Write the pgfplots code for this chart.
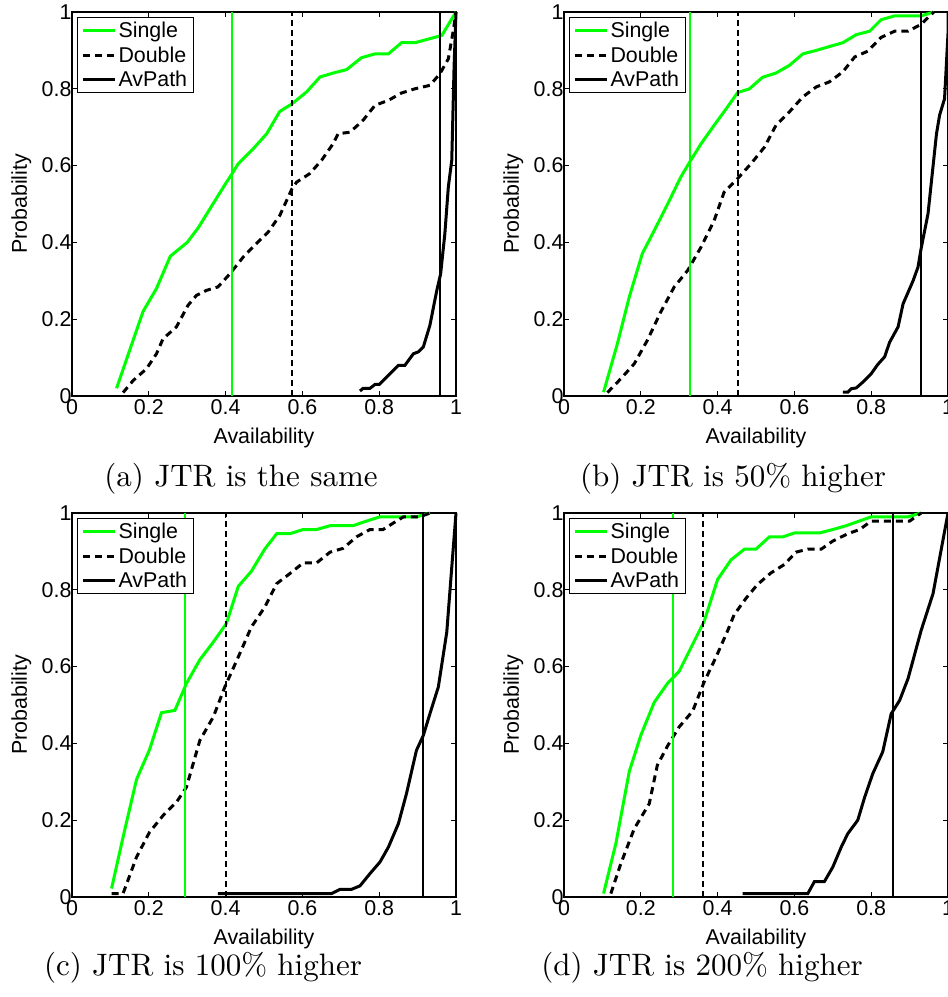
\documentclass[border=0pt]{standalone}
\usepackage{fontspec}
\usepackage{pgfplots}
\pgfplotsset{compat=1.18}
\newfontfamily\arial{Liberation Sans}
\newfontfamily\capfont{lmroman10-regular.otf}
\definecolor{mgreen}{RGB}{0,255,0}
\newcommand{\axfont}{\arial\fontsize{21.4}{25}\selectfont}
\pgfplotsset{
  panel/.style={
    scale only axis, width=384pt, height=384pt,
    xmin=0, xmax=1, ymin=0, ymax=1,
    xtick={0,0.2,0.4,0.6,0.8,1}, ytick={0,0.2,0.4,0.6,0.8,1},
    tick align=inside, major tick length=5pt,
    tick style={black, line width=1pt},
    axis line style={black, line width=1.3pt},
    /pgf/number format/assume math mode=true,
    tick label style={font=\axfont},
    label style={font=\axfont},
    xlabel={Availability}, ylabel={Probability},
    xlabel style={at={(axis description cs:0.5,-0.11)}, anchor=center},
    ylabel style={at={(axis description cs:-0.132,0.5)}, anchor=center, rotate=0},
    yticklabel style={xshift=3pt},
    legend style={at={(axis description cs:0,1)}, anchor=north west,
      xshift=5pt, yshift=-5pt, draw=black, line width=1pt, font=\axfont,
      inner xsep=4pt, inner ysep=2.5pt, row sep=3.5pt,
      nodes={inner sep=2pt}, cells={anchor=west}},
    legend image code/.code={\draw[#1] (0pt,0pt) -- (32pt,0pt);},
    clip=false,
  },
  single/.style={mgreen, line width=3pt},
  double/.style={black, line width=3pt, dash pattern=on 7pt off 5pt},
  avpath/.style={black, line width=3pt},
  vsingle/.style={mgreen, line width=2pt, forget plot},
  vdouble/.style={black, line width=2pt, dash pattern=on 6pt off 4pt, forget plot},
  vavpath/.style={black, line width=2pt, forget plot},
}
\begin{document}
\begin{tikzpicture}[x=1pt,y=1pt]
\useasboundingbox (0,0) rectangle (948,-997);
% ---------------- (a)
\begin{axis}[panel, at={(72pt,-396pt)}, anchor=south west]
\addplot[single] coordinates {(0.116,0.02) (0.185,0.22) (0.22,0.28) (0.256,0.364) (0.30,0.40) (0.33,0.44) (0.367,0.50) (0.40,0.553) (0.417,0.579) (0.433,0.605) (0.472,0.644) (0.507,0.683) (0.541,0.741) (0.573,0.761) (0.611,0.792) (0.646,0.831) (0.680,0.841) (0.715,0.85) (0.754,0.881) (0.789,0.891) (0.824,0.891) (0.858,0.92) (0.893,0.92) (0.963,0.939) (1.0,1.0)};
\addlegendentry{Single}
\addplot[double] coordinates {(0.133,0.009) (0.159,0.04) (0.194,0.071) (0.22,0.11) (0.237,0.149) (0.272,0.18) (0.302,0.236) (0.324,0.262) (0.35,0.275) (0.38,0.284) (0.411,0.318) (0.446,0.362) (0.48,0.397) (0.511,0.427) (0.541,0.47) (0.573,0.54) (0.585,0.557) (0.619,0.579) (0.65,0.614) (0.68,0.657) (0.693,0.683) (0.724,0.687) (0.758,0.718) (0.789,0.757) (0.824,0.77) (0.858,0.789) (0.893,0.80) (0.932,0.809) (0.958,0.839) (0.98,0.878) (0.993,0.952) (1,1)};
\addlegendentry{Double}
\addplot[avpath] coordinates {(0.75,0.013) (0.758,0.02) (0.776,0.02) (0.789,0.03) (0.80,0.03) (0.828,0.058) (0.85,0.08) (0.867,0.08) (0.889,0.11) (0.902,0.115) (0.915,0.128) (0.932,0.184) (0.95,0.275) (0.96,0.318) (0.971,0.423) (0.98,0.544) (0.989,0.614) (0.995,0.857) (1,1)};
\addlegendentry{AvPath}
\addplot[vsingle] coordinates {(0.417,0) (0.417,1)};
\addplot[vdouble] coordinates {(0.573,0) (0.573,1)};
\addplot[vavpath] coordinates {(0.959,0) (0.959,1)};
\end{axis}
% ---------------- (b)
\begin{axis}[panel, at={(564pt,-396pt)}, anchor=south west]
\addplot[single] coordinates {(0.103,0.01) (0.139,0.136) (0.17,0.258) (0.204,0.371) (0.235,0.431) (0.27,0.50) (0.304,0.57) (0.329,0.612) (0.357,0.657) (0.391,0.705) (0.426,0.753) (0.452,0.79) (0.483,0.80) (0.517,0.83) (0.552,0.841) (0.587,0.861) (0.622,0.891) (0.657,0.90) (0.691,0.91) (0.726,0.92) (0.761,0.941) (0.796,0.95) (0.826,0.98) (0.861,0.99) (0.896,0.99) (0.93,0.99) (0.963,1.0)};
\addlegendentry{Single}
\addplot[double] coordinates {(0.113,0.009) (0.148,0.045) (0.183,0.084) (0.217,0.145) (0.252,0.219) (0.287,0.284) (0.322,0.327) (0.357,0.388) (0.391,0.457) (0.417,0.531) (0.452,0.566) (0.487,0.605) (0.522,0.648) (0.552,0.705) (0.587,0.74) (0.622,0.779) (0.657,0.805) (0.691,0.818) (0.726,0.844) (0.757,0.883) (0.791,0.898) (0.826,0.934) (0.861,0.95) (0.896,0.95) (0.93,0.968) (0.963,1.0)};
\addlegendentry{Double}
\addplot[avpath] coordinates {(0.726,0.01) (0.739,0.01) (0.748,0.019) (0.761,0.021) (0.778,0.036) (0.80,0.058) (0.817,0.082) (0.835,0.102) (0.848,0.14) (0.87,0.18) (0.883,0.24) (0.909,0.30) (0.922,0.336) (0.93,0.384) (0.948,0.475) (0.97,0.683) (0.978,0.731) (0.991,0.774) (1.0,0.944) (1.0,1.0)};
\addlegendentry{AvPath}
\addplot[vsingle] coordinates {(0.329,0) (0.329,1)};
\addplot[vdouble] coordinates {(0.452,0) (0.452,1)};
\addplot[vavpath] coordinates {(0.929,0) (0.929,1)};
\end{axis}
% ---------------- (c)
\begin{axis}[panel, at={(72pt,-897pt)}, anchor=south west]
\addplot[single] coordinates {(0.103,0.022) (0.133,0.156) (0.168,0.306) (0.202,0.384) (0.233,0.48) (0.268,0.486) (0.298,0.556) (0.333,0.618) (0.368,0.664) (0.402,0.712) (0.433,0.809) (0.467,0.848) (0.502,0.906) (0.533,0.946) (0.567,0.946) (0.602,0.957) (0.637,0.957) (0.672,0.967) (0.732,0.967) (0.767,0.979) (0.802,0.99) (0.897,0.99) (0.932,1.0)};
\addlegendentry{Single}
\addplot[double] coordinates {(0.103,0.009) (0.133,0.009) (0.168,0.104) (0.202,0.169) (0.237,0.212) (0.272,0.247) (0.298,0.286) (0.333,0.408) (0.368,0.469) (0.398,0.547) (0.433,0.625) (0.467,0.703) (0.502,0.755) (0.533,0.816) (0.567,0.842) (0.602,0.87) (0.637,0.87) (0.672,0.898) (0.706,0.908) (0.741,0.938) (0.776,0.957) (0.81,0.957) (0.845,0.979) (0.863,0.99) (0.906,0.99) (0.932,1.0)};
\addlegendentry{Double}
\addplot[avpath] coordinates {(0.38,0.009) (0.676,0.009) (0.698,0.02) (0.728,0.02) (0.75,0.029) (0.776,0.061) (0.802,0.091) (0.824,0.13) (0.85,0.191) (0.871,0.269) (0.897,0.382) (0.915,0.421) (0.932,0.477) (0.954,0.547) (0.976,0.69) (0.989,0.859) (1,1)};
\addlegendentry{AvPath}
\addplot[vsingle] coordinates {(0.295,0) (0.295,1)};
\addplot[vdouble] coordinates {(0.40,0) (0.40,1)};
\addplot[vavpath] coordinates {(0.915,0) (0.915,1)};
\end{axis}
% ---------------- (d)
\begin{axis}[panel, at={(564pt,-897pt)}, anchor=south west]
\addplot[single] coordinates {(0.103,0.009) (0.135,0.139) (0.17,0.327) (0.2,0.421) (0.235,0.507) (0.27,0.557) (0.283,0.57) (0.3,0.588) (0.335,0.658) (0.365,0.718) (0.40,0.827) (0.435,0.878) (0.47,0.906) (0.5,0.906) (0.535,0.938) (0.57,0.938) (0.6,0.948) (0.665,0.948) (0.70,0.957) (0.735,0.967) (0.80,0.99) (0.896,0.99) (0.93,1.0)};
\addlegendentry{Single}
\addplot[double] coordinates {(0.122,0.009) (0.148,0.087) (0.183,0.178) (0.222,0.243) (0.243,0.343) (0.27,0.394) (0.3,0.443) (0.335,0.484) (0.365,0.56) (0.396,0.625) (0.426,0.693) (0.443,0.735) (0.474,0.778) (0.504,0.814) (0.539,0.844) (0.574,0.866) (0.604,0.898) (0.635,0.906) (0.67,0.906) (0.70,0.927) (0.739,0.946) (0.77,0.957) (0.80,0.979) (0.90,0.979) (0.93,1.0)};
\addlegendentry{Double}
\addplot[avpath] coordinates {(0.465,0.009) (0.635,0.009) (0.652,0.04) (0.678,0.04) (0.70,0.078) (0.722,0.13) (0.739,0.165) (0.765,0.20) (0.783,0.26) (0.804,0.321) (0.83,0.378) (0.852,0.477) (0.874,0.512) (0.896,0.569) (0.93,0.694) (0.961,0.79) (1.0,1.0)};
\addlegendentry{AvPath}
\addplot[vsingle] coordinates {(0.283,0) (0.283,1)};
\addplot[vdouble] coordinates {(0.362,0) (0.362,1)};
\addplot[vavpath] coordinates {(0.857,0) (0.857,1)};
\end{axis}
% captions
\node[font=\capfont\fontsize{31}{36}\selectfont] at (241,-479) {(a) JTR is the same};
\node[font=\capfont\fontsize{31}{36}\selectfont] at (733,-479) {(b) JTR is 50\% higher};
\node[font=\capfont\fontsize{31}{36}\selectfont] at (203,-968) {(c) JTR is 100\% higher};
\node[font=\capfont\fontsize{31}{36}\selectfont] at (702,-968) {(d) JTR is 200\% higher};
\end{tikzpicture}
\end{document}
